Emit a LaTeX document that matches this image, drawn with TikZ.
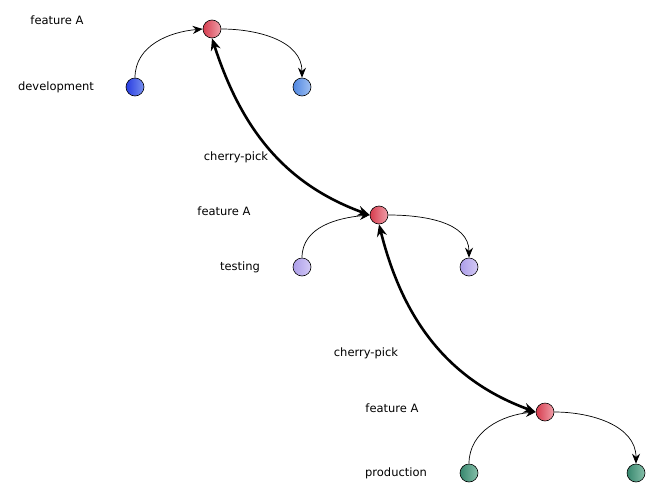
\documentclass[tikz,border=0pt]{standalone}
\usepackage{fontspec}
\setmainfont{DejaVu Sans}
\usetikzlibrary{arrows.meta}

\definecolor{featred}{RGB}{214,60,78}
\definecolor{featredlt}{RGB}{240,160,170}
\definecolor{devblue}{RGB}{40,60,225}
\definecolor{devbluelt}{RGB}{120,145,240}
\definecolor{devsky}{RGB}{80,135,225}
\definecolor{devskylt}{RGB}{160,192,242}
\definecolor{testlav}{RGB}{172,158,232}
\definecolor{testlavlt}{RGB}{212,202,246}
\definecolor{prodteal}{RGB}{55,135,110}
\definecolor{prodteallt}{RGB}{135,192,170}

\tikzset{global scale/.style={
    	x=#1pt, y=-#1pt,
    	every node/.append style={scale=#1}
  	},
  	commit/.style 2 args={circle, draw=black, line width=0.6pt, minimum size=18pt, inner sep=0pt,
  		left color=#1, right color=#2},
  	branchlabel/.style={font=\fontsize{11.5}{14}\selectfont, inner sep=0pt},
  	flow/.style={black, line width=0.7pt, -{Stealth[length=10pt, width=8pt]}},
  	pick/.style={black, line width=2.6pt, {Stealth[length=12pt, width=10pt]}-{Stealth[length=12pt, width=10pt]}}
}

\begin{document}
\begin{tikzpicture}[global scale = 1]
		\useasboundingbox (0,0) rectangle (666,498);
		% development
		\node [commit={devblue}{devbluelt}] (dev1) at (135,87) {};
		\node [commit={featred}{featredlt}] (featA1) at (212,29) {};
		\node [commit={devsky}{devskylt}] (dev2) at (302,87) {};
		\node [branchlabel] (devlabel) at (56,87) {development};
		\node [branchlabel] (featlabel1) at (57,20) {feature A};
		% testing
		\node [commit={testlav}{testlavlt}] (test1) at (302,267) {};
		\node [commit={featred}{featredlt}] (featA2) at (379,215) {};
		\node [commit={testlav}{testlavlt}] (test2) at (469,267) {};
		\node [branchlabel] (testlabel) at (240,267) {testing};
		\node [branchlabel] (featlabel2) at (224,211) {feature A};
		% production
		\node [commit={prodteal}{prodteallt}] (prod1) at (469,473) {};
		\node [commit={featred}{featredlt}] (featA3) at (545,412) {};
		\node [commit={prodteal}{prodteallt}] (prod2) at (636,473) {};
		\node [branchlabel] (prodlabel) at (396,473) {production};
		\node [branchlabel] (featlabel3) at (392,408) {feature A};
		% cherry-pick labels
		\node [branchlabel] (picklabel1) at (236,157) {cherry-pick};
		\node [branchlabel] (picklabel2) at (366,353) {cherry-pick};

		\draw [flow] (dev1.north) to [out=90, in=185] (featA1.west);
		\draw [flow] (featA1.east) to [out=0, in=90] (dev2.north);
		\draw [flow] (test1.north) to [out=90, in=185] (featA2.west);
		\draw [flow] (featA2.east) to [out=0, in=90] (test2.north);
		\draw [flow] (prod1.north) to [out=90, in=185] (featA3.west);
		\draw [flow] (featA3.east) to [out=0, in=90] (prod2.north);

		\draw [pick] (featA1.south) to [out=-72, in=160] (featA2.west);
		\draw [pick] (featA2.south) to [out=-76, in=160] (featA3.west);
	\end{tikzpicture}
\end{document}
